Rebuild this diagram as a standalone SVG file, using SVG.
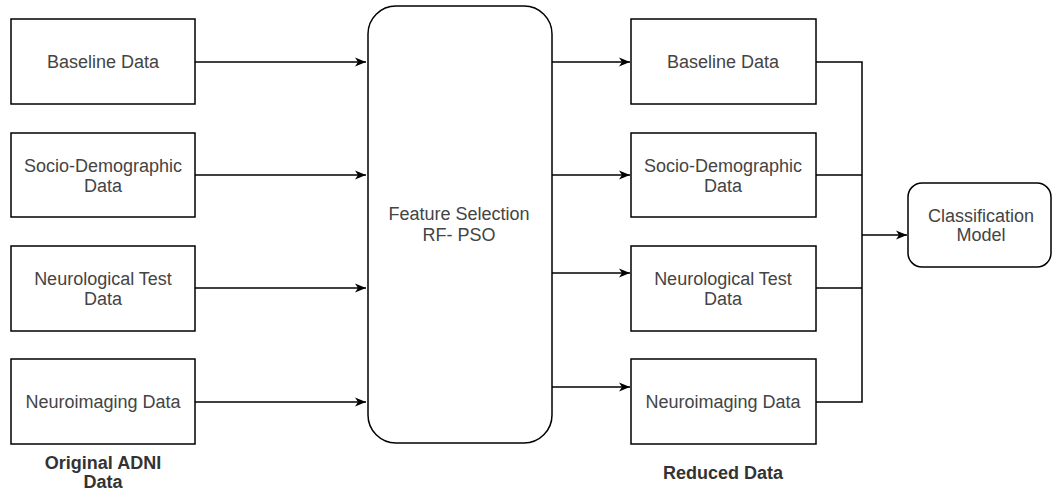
<svg xmlns="http://www.w3.org/2000/svg" width="1053" height="491" viewBox="0 0 1053 491">
<defs>
<marker id="arr" markerWidth="12" markerHeight="10" refX="11" refY="5" orient="auto" markerUnits="userSpaceOnUse">
<path d="M0,0.5 L11,5 L0,9.5 L3,5 Z" fill="#000"/>
</marker>
<style>
.box{fill:#fff;stroke:#000;stroke-width:1.5}
.t{font-family:"Liberation Sans",Arial,sans-serif;font-size:18px;fill:#444;text-anchor:middle}
.b{font-family:"Liberation Sans",Arial,sans-serif;font-size:18px;font-weight:bold;fill:#333;text-anchor:middle}
.c{fill:none;stroke:#000;stroke-width:1.5}
</style>
</defs>
<rect width="1053" height="491" fill="#fff"/>
<g id="in-baseline"><rect class="box" x="11" y="19" width="184" height="85"/><text class="t" x="103" y="68">Baseline Data</text></g>
<g id="in-socio"><rect class="box" x="11" y="133" width="184" height="84"/><text class="t" x="103" y="172">Socio-Demographic</text><text class="t" x="103" y="192">Data</text></g>
<g id="in-neuro"><rect class="box" x="11" y="246" width="184" height="85"/><text class="t" x="103" y="285">Neurological Test</text><text class="t" x="103" y="305">Data</text></g>
<g id="in-img"><rect class="box" x="11" y="359" width="184" height="85"/><text class="t" x="103" y="408">Neuroimaging Data</text></g>
<g id="label-original"><text class="b" x="103" y="469">Original ADNI</text><text class="b" x="103" y="488">Data</text></g>
<g id="feature"><rect class="box" x="368" y="6" width="184" height="437" rx="28" ry="28"/><text class="t" x="459" y="220">Feature Selection</text><text class="t" x="459" y="241">RF- PSO</text></g>
<g id="out-baseline"><rect class="box" x="631" y="19" width="185" height="85"/><text class="t" x="723" y="68">Baseline Data</text></g>
<g id="out-socio"><rect class="box" x="631" y="133" width="185" height="84"/><text class="t" x="723" y="172">Socio-Demographic</text><text class="t" x="723" y="192">Data</text></g>
<g id="out-neuro"><rect class="box" x="631" y="246" width="185" height="85"/><text class="t" x="723" y="285">Neurological Test</text><text class="t" x="723" y="305">Data</text></g>
<g id="out-img"><rect class="box" x="631" y="359" width="185" height="85"/><text class="t" x="723" y="408">Neuroimaging Data</text></g>
<g id="label-reduced"><text class="b" x="723" y="479">Reduced Data</text></g>
<g id="classifier"><rect class="box" x="908" y="183" width="143" height="84" rx="14" ry="14"/><text class="t" x="981" y="222">Classification</text><text class="t" x="981" y="241">Model</text></g>
<g id="connectors">
<line class="c" x1="195" y1="62" x2="366" y2="62" marker-end="url(#arr)"/>
<line class="c" x1="195" y1="175" x2="366" y2="175" marker-end="url(#arr)"/>
<line class="c" x1="195" y1="288" x2="366" y2="288" marker-end="url(#arr)"/>
<line class="c" x1="195" y1="402" x2="366" y2="402" marker-end="url(#arr)"/>
<line class="c" x1="552" y1="62" x2="630" y2="62" marker-end="url(#arr)"/>
<line class="c" x1="552" y1="175" x2="630" y2="175" marker-end="url(#arr)" stroke="#555"/>
<line class="c" x1="552" y1="273" x2="630" y2="273" marker-end="url(#arr)"/>
<line class="c" x1="552" y1="387" x2="630" y2="387" marker-end="url(#arr)"/>
<path class="c" d="M816,62 H862 V402 H816 M816,175 H862 M816,288 H862"/>
<line class="c" x1="862" y1="235" x2="907" y2="235" marker-end="url(#arr)"/>
</g>
</svg>
